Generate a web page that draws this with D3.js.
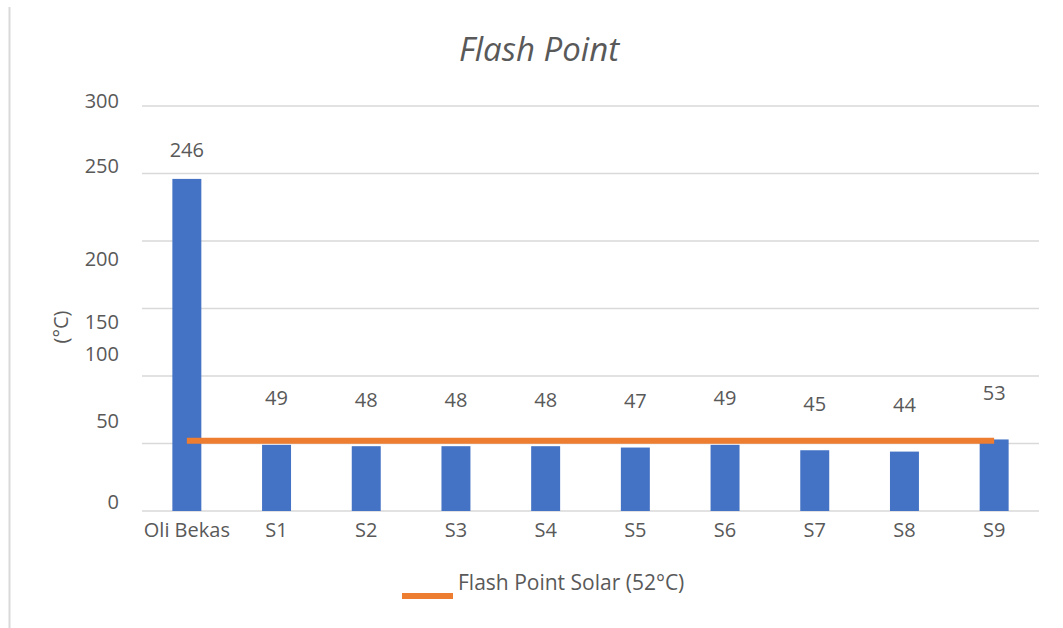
<!DOCTYPE html>
<html>
<head>
<meta charset="utf-8">
<script src="https://cdn.jsdelivr.net/npm/d3@7/dist/d3.min.js"></script>
<style>
  html, body { margin: 0; padding: 0; background: #ffffff; }
  svg text { font-family: "Open Sans", "Noto Sans", sans-serif; fill: #595959; }
</style>
</head>
<body>
<svg id="chart" width="1063" height="628"></svg>
<script>
// ---- data ----
const categories = ["Oli Bekas", "S1", "S2", "S3", "S4", "S5", "S6", "S7", "S8", "S9"];
const flashPoint = [246, 49, 48, 48, 48, 47, 49, 45, 44, 53];
const solarFlashPoint = [52, 52, 52, 52, 52, 52, 52, 52, 52, 52];
const yTicks = [0, 50, 100, 150, 200, 250, 300];
const chartTitle = "Flash Point";
const yAxisTitle = "(°C)";
const legendLabel = "Flash Point Solar (52°C)";

// ---- layout (not data) ----
const tickLabelShift = {0: -9, 50: -22, 100: -22, 150: 14, 200: 18, 250: -7, 300: -5};
const valueLabelDy = [-29, -47, -47, -47, -47, -47, -47, -47, -47, -47];

const svg = d3.select("#chart");
const plotLeft = 142, plotRight = 1039, plotTop = 106, plotBottom = 511;

const x = d3.scaleBand().domain(categories).range([plotLeft, plotRight]).paddingInner(0.677).paddingOuter(0.3385);
const y = d3.scaleLinear().domain([0, 300]).range([plotBottom, plotTop]);

// left border line
svg.append("line").attr("x1", 9.5).attr("x2", 9.5).attr("y1", 7).attr("y2", 628)
  .attr("stroke", "#d9d9d9").attr("stroke-width", 2);

// gridlines
svg.append("g").selectAll("line").data(yTicks).join("line")
  .attr("x1", plotLeft).attr("x2", plotRight)
  .attr("y1", d => y(d)).attr("y2", d => y(d))
  .attr("stroke", "#d9d9d9").attr("stroke-width", 1.5);

// y axis labels
const yAxis = svg.append("g").attr("transform", `translate(${plotLeft - 5},0)`)
  .call(d3.axisLeft(y).tickValues(yTicks).tickSize(0).tickPadding(18));
yAxis.select(".domain").remove();
yAxis.selectAll("text")
  .attr("font-size", 20).attr("font-family", "Open Sans, sans-serif").attr("fill", "#595959")
  .attr("transform", d => `translate(0,${tickLabelShift[d]})`);

// x axis labels
const xAxis = svg.append("g").attr("transform", `translate(0,${plotBottom})`)
  .call(d3.axisBottom(x).tickSize(0).tickPadding(12));
xAxis.select(".domain").remove();
xAxis.selectAll("text").attr("font-size", 20).attr("font-family", "Open Sans, sans-serif").attr("fill", "#595959");

// bars
svg.append("g").selectAll("rect").data(flashPoint).join("rect")
  .attr("x", (d, i) => x(categories[i]))
  .attr("width", x.bandwidth())
  .attr("y", d => y(d))
  .attr("height", d => y(0) - y(d))
  .attr("fill", "#4472C4");

// value labels
svg.append("g").selectAll("text").data(flashPoint).join("text")
  .attr("x", (d, i) => x(categories[i]) + x.bandwidth() / 2)
  .attr("y", (d, i) => y(d) + valueLabelDy[i])
  .attr("text-anchor", "middle").attr("dominant-baseline", "central")
  .attr("font-size", 20).attr("fill", "#404040")
  .text(d => d);

// solar line
const line = d3.line()
  .x((d, i) => x(categories[i]) + x.bandwidth() / 2)
  .y(d => y(d));
svg.append("path").datum(solarFlashPoint)
  .attr("d", line).attr("fill", "none")
  .attr("stroke", "#ED7D31").attr("stroke-width", 6);

// title
svg.append("text").attr("x", 539).attr("y", 48)
  .attr("text-anchor", "middle").attr("dominant-baseline", "central")
  .attr("font-size", 33).attr("font-style", "italic").attr("fill", "#595959")
  .text(chartTitle);

// y axis title
svg.append("text").attr("transform", "translate(60,327) rotate(-90)")
  .attr("text-anchor", "middle").attr("dominant-baseline", "central")
  .attr("font-size", 20).attr("fill", "#595959")
  .text(yAxisTitle);

// legend
svg.append("line").attr("x1", 402).attr("x2", 453).attr("y1", 596).attr("y2", 596)
  .attr("stroke", "#ED7D31").attr("stroke-width", 6);
svg.append("text").attr("x", 458).attr("y", 582)
  .attr("dominant-baseline", "central").attr("font-size", 21).attr("fill", "#595959")
  .text(legendLabel);
</script>
</body>
</html>
